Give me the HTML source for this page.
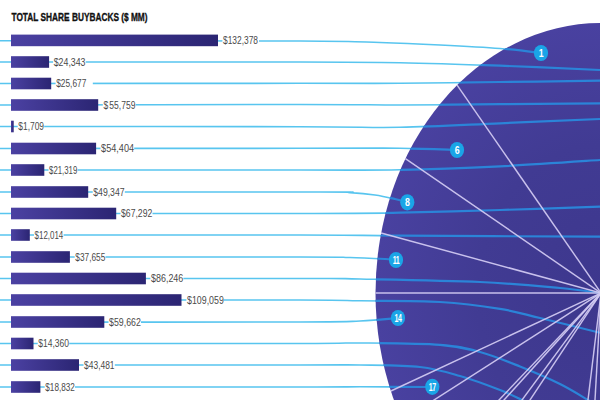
<!DOCTYPE html>
<html><head><meta charset="utf-8"><title>Total Share Buybacks</title>
<style>
html,body{margin:0;padding:0;background:#fff;}
body{width:600px;height:400px;overflow:hidden;font-family:"Liberation Sans",sans-serif;}
svg{display:block;}
text{font-family:"Liberation Sans",sans-serif;}
</style></head><body>
<svg width="600" height="400" viewBox="0 0 600 400">
<defs>
<linearGradient id="bar" x1="0" y1="0" x2="1" y2="0">
<stop offset="0" stop-color="#4b41a2"/><stop offset="1" stop-color="#2b2573"/>
</linearGradient>
<radialGradient id="pie" cx="0.5" cy="0.5" r="0.5">
<stop offset="0" stop-color="#3d378d"/><stop offset="0.55" stop-color="#413b93"/><stop offset="1" stop-color="#4941a0"/>
</radialGradient>
<clipPath id="inpie"><ellipse cx="601" cy="293.1" rx="225.5" ry="270.0"/></clipPath>
</defs>
<rect width="600" height="400" fill="#fff"/>

<g fill="none" stroke="#58c5ef" stroke-width="1.6" stroke-linecap="round">
<path d="M0.0,40.7 C50.0,40.8 236.7,40.7 300.0,41.0 C363.3,41.3 356.7,41.8 380.0,42.5 C403.3,43.2 420.0,44.0 440.0,45.0 C460.0,46.0 483.2,47.2 500.0,48.5 C516.8,49.8 534.2,52.2 541.0,53.0"/>
<path d="M0.0,62.0 C50.0,62.0 233.3,61.9 300.0,62.0 C366.7,62.1 366.7,62.1 400.0,62.7 C433.3,63.3 466.7,64.5 500.0,65.7 C533.3,66.9 583.3,69.3 600.0,70.0"/>
<path d="M0.0,83.5 C50.0,83.5 233.3,83.3 300.0,83.3 C366.7,83.3 366.7,83.5 400.0,83.3 C433.3,83.1 466.7,82.4 500.0,82.0 C533.3,81.6 583.3,80.9 600.0,80.7"/>
<path d="M0.0,105.0 C50.0,104.9 233.3,104.5 300.0,104.5 C366.7,104.5 366.7,105.0 400.0,105.0 C433.3,105.0 466.7,104.5 500.0,104.2 C533.3,103.9 583.3,103.5 600.0,103.3"/>
<path d="M0.0,126.5 C50.0,126.5 233.3,126.6 300.0,126.7 C366.7,126.8 366.7,127.9 400.0,127.3 C433.3,126.7 466.7,124.7 500.0,123.3 C533.3,121.9 583.3,119.7 600.0,119.0"/>
<path d="M0.0,148.5 C50.0,148.5 233.3,148.3 300.0,148.3 C366.7,148.3 373.8,148.0 400.0,148.3 C426.2,148.6 447.5,149.7 457.0,150.0"/>
<path d="M0.0,170.0 C50.0,170.0 233.3,170.0 300.0,170.0 C366.7,170.0 366.7,170.4 400.0,169.8 C433.3,169.2 466.7,167.9 500.0,166.3 C533.3,164.7 583.3,161.1 600.0,160.0"/>
<path d="M0.0,192.0 C53.3,192.0 261.7,191.9 320.0,192.0 C378.3,192.1 340.8,192.1 350.0,192.6 C359.2,193.1 367.5,193.9 375.0,195.0 C382.5,196.1 389.7,197.8 395.0,199.0 C400.3,200.2 405.0,201.8 407.0,202.3"/>
<path d="M0.0,213.5 C50.0,213.5 233.3,213.6 300.0,213.5 C366.7,213.4 366.7,213.3 400.0,212.7 C433.3,212.1 466.7,211.0 500.0,210.0 C533.3,209.0 583.3,207.2 600.0,206.7"/>
<path d="M0.0,235.0 C50.0,235.0 233.3,234.9 300.0,235.0 C366.7,235.1 350.0,235.4 400.0,235.7 C450.0,236.0 566.7,236.5 600.0,236.7"/>
<path d="M0.0,257.0 C50.0,257.0 241.7,256.9 300.0,257.0 C358.3,257.1 334.0,257.1 350.0,257.5 C366.0,257.9 388.3,259.2 396.0,259.5"/>
<path d="M0.0,278.5 C50.0,278.5 240.0,278.4 300.0,278.5 C360.0,278.6 330.0,278.4 360.0,279.0 C390.0,279.6 446.7,280.5 480.0,282.0 C513.3,283.5 539.8,286.2 560.0,288.0 C580.2,289.8 594.2,292.2 601.0,293.0"/>
<path d="M0.0,300.0 C50.0,300.0 240.0,299.9 300.0,300.0 C360.0,300.1 336.7,300.5 360.0,300.8 C383.3,301.1 416.7,300.7 440.0,302.0 C463.3,303.3 483.3,306.1 500.0,308.8 C516.7,311.5 523.3,314.0 540.0,318.0 C556.7,322.0 590.0,330.3 600.0,332.8"/>
<path d="M0.0,322.0 C50.0,322.0 240.0,322.2 300.0,322.0 C360.0,321.8 343.7,321.7 360.0,321.0 C376.3,320.3 391.7,318.5 398.0,318.0"/>
<path d="M0.0,343.5 C50.0,343.5 240.0,343.6 300.0,343.5 C360.0,343.4 336.7,342.8 360.0,343.0 C383.3,343.2 420.0,343.3 440.0,344.8 C460.0,346.3 466.7,348.4 480.0,352.0 C493.3,355.6 506.7,361.2 520.0,366.5 C533.3,371.8 548.7,378.4 560.0,384.0 C571.3,389.6 582.0,396.5 588.0,400.0 C594.0,403.5 594.7,404.2 596.0,405.0"/>
<path d="M0.0,365.0 C50.0,365.0 240.0,365.0 300.0,365.0 C360.0,365.0 340.0,364.7 360.0,365.0 C380.0,365.3 403.3,365.2 420.0,367.0 C436.7,368.8 446.7,372.2 460.0,376.0 C473.3,379.8 489.7,386.0 500.0,390.0 C510.3,394.0 517.0,397.7 522.0,400.0 C527.0,402.3 528.7,403.3 530.0,404.0"/>
<path d="M0.0,387.0 C50.0,387.0 240.0,387.0 300.0,387.0 C360.0,387.0 338.0,386.8 360.0,386.8 C382.0,386.8 420.0,387.0 432.0,387.0"/>
</g>
<ellipse cx="601" cy="293.1" rx="225.5" ry="270.0" fill="url(#pie)"/>
<g fill="none" stroke="#2b84d8" stroke-width="2.2" clip-path="url(#inpie)">
<path d="M0.0,40.7 C50.0,40.8 236.7,40.7 300.0,41.0 C363.3,41.3 356.7,41.8 380.0,42.5 C403.3,43.2 420.0,44.0 440.0,45.0 C460.0,46.0 483.2,47.2 500.0,48.5 C516.8,49.8 534.2,52.2 541.0,53.0"/>
<path d="M0.0,62.0 C50.0,62.0 233.3,61.9 300.0,62.0 C366.7,62.1 366.7,62.1 400.0,62.7 C433.3,63.3 466.7,64.5 500.0,65.7 C533.3,66.9 583.3,69.3 600.0,70.0"/>
<path d="M0.0,83.5 C50.0,83.5 233.3,83.3 300.0,83.3 C366.7,83.3 366.7,83.5 400.0,83.3 C433.3,83.1 466.7,82.4 500.0,82.0 C533.3,81.6 583.3,80.9 600.0,80.7"/>
<path d="M0.0,105.0 C50.0,104.9 233.3,104.5 300.0,104.5 C366.7,104.5 366.7,105.0 400.0,105.0 C433.3,105.0 466.7,104.5 500.0,104.2 C533.3,103.9 583.3,103.5 600.0,103.3"/>
<path d="M0.0,126.5 C50.0,126.5 233.3,126.6 300.0,126.7 C366.7,126.8 366.7,127.9 400.0,127.3 C433.3,126.7 466.7,124.7 500.0,123.3 C533.3,121.9 583.3,119.7 600.0,119.0"/>
<path d="M0.0,148.5 C50.0,148.5 233.3,148.3 300.0,148.3 C366.7,148.3 373.8,148.0 400.0,148.3 C426.2,148.6 447.5,149.7 457.0,150.0"/>
<path d="M0.0,170.0 C50.0,170.0 233.3,170.0 300.0,170.0 C366.7,170.0 366.7,170.4 400.0,169.8 C433.3,169.2 466.7,167.9 500.0,166.3 C533.3,164.7 583.3,161.1 600.0,160.0"/>
<path d="M0.0,192.0 C53.3,192.0 261.7,191.9 320.0,192.0 C378.3,192.1 340.8,192.1 350.0,192.6 C359.2,193.1 367.5,193.9 375.0,195.0 C382.5,196.1 389.7,197.8 395.0,199.0 C400.3,200.2 405.0,201.8 407.0,202.3"/>
<path d="M0.0,213.5 C50.0,213.5 233.3,213.6 300.0,213.5 C366.7,213.4 366.7,213.3 400.0,212.7 C433.3,212.1 466.7,211.0 500.0,210.0 C533.3,209.0 583.3,207.2 600.0,206.7"/>
<path d="M0.0,235.0 C50.0,235.0 233.3,234.9 300.0,235.0 C366.7,235.1 350.0,235.4 400.0,235.7 C450.0,236.0 566.7,236.5 600.0,236.7"/>
<path d="M0.0,257.0 C50.0,257.0 241.7,256.9 300.0,257.0 C358.3,257.1 334.0,257.1 350.0,257.5 C366.0,257.9 388.3,259.2 396.0,259.5"/>
<path d="M0.0,278.5 C50.0,278.5 240.0,278.4 300.0,278.5 C360.0,278.6 330.0,278.4 360.0,279.0 C390.0,279.6 446.7,280.5 480.0,282.0 C513.3,283.5 539.8,286.2 560.0,288.0 C580.2,289.8 594.2,292.2 601.0,293.0"/>
<path d="M0.0,300.0 C50.0,300.0 240.0,299.9 300.0,300.0 C360.0,300.1 336.7,300.5 360.0,300.8 C383.3,301.1 416.7,300.7 440.0,302.0 C463.3,303.3 483.3,306.1 500.0,308.8 C516.7,311.5 523.3,314.0 540.0,318.0 C556.7,322.0 590.0,330.3 600.0,332.8"/>
<path d="M0.0,322.0 C50.0,322.0 240.0,322.2 300.0,322.0 C360.0,321.8 343.7,321.7 360.0,321.0 C376.3,320.3 391.7,318.5 398.0,318.0"/>
<path d="M0.0,343.5 C50.0,343.5 240.0,343.6 300.0,343.5 C360.0,343.4 336.7,342.8 360.0,343.0 C383.3,343.2 420.0,343.3 440.0,344.8 C460.0,346.3 466.7,348.4 480.0,352.0 C493.3,355.6 506.7,361.2 520.0,366.5 C533.3,371.8 548.7,378.4 560.0,384.0 C571.3,389.6 582.0,396.5 588.0,400.0 C594.0,403.5 594.7,404.2 596.0,405.0"/>
<path d="M0.0,365.0 C50.0,365.0 240.0,365.0 300.0,365.0 C360.0,365.0 340.0,364.7 360.0,365.0 C380.0,365.3 403.3,365.2 420.0,367.0 C436.7,368.8 446.7,372.2 460.0,376.0 C473.3,379.8 489.7,386.0 500.0,390.0 C510.3,394.0 517.0,397.7 522.0,400.0 C527.0,402.3 528.7,403.3 530.0,404.0"/>
<path d="M0.0,387.0 C50.0,387.0 240.0,387.0 300.0,387.0 C360.0,387.0 338.0,386.8 360.0,386.8 C382.0,386.8 420.0,387.0 432.0,387.0"/>
</g>
<g stroke="#d0c8f1" stroke-width="1.45" stroke-opacity="0.95">
<line x1="601" y1="293" x2="457.1" y2="85.1"/>
<line x1="601" y1="293" x2="405.4" y2="158.6"/>
<line x1="601" y1="293" x2="381.1" y2="233.0"/>
<line x1="601" y1="293" x2="375.5" y2="293.0"/>
<line x1="601" y1="293" x2="390.9" y2="391.0"/>
<line x1="601" y1="293" x2="402.2" y2="420.4"/>
<line x1="601" y1="293" x2="431.4" y2="470.9"/>
<line x1="601" y1="293" x2="435.2" y2="475.9"/>
<line x1="601" y1="293" x2="451.6" y2="495.3"/>
<line x1="601" y1="293" x2="460.7" y2="504.4"/>
<line x1="601" y1="293" x2="568.5" y2="560.2"/>
<line x1="601" y1="293" x2="585.9" y2="562.4"/>
</g>
<ellipse cx="541" cy="53" rx="7.1" ry="8.1" fill="#1aa5e7"/>
<text transform="translate(541,57) scale(1.0,1.22)" text-anchor="middle" font-size="8.8" font-weight="bold" fill="#fff" letter-spacing="-0.5">1</text>
<ellipse cx="457" cy="150" rx="7.1" ry="8.1" fill="#1aa5e7"/>
<text transform="translate(457,154) scale(1.0,1.22)" text-anchor="middle" font-size="8.8" font-weight="bold" fill="#fff" letter-spacing="-0.5">6</text>
<ellipse cx="407.3" cy="202.3" rx="7.1" ry="8.1" fill="#1aa5e7"/>
<text transform="translate(407.3,206.3) scale(1.0,1.22)" text-anchor="middle" font-size="8.8" font-weight="bold" fill="#fff" letter-spacing="-0.5">8</text>
<ellipse cx="396" cy="260" rx="7.1" ry="8.1" fill="#1aa5e7"/>
<text transform="translate(396,264) scale(0.8,1.22)" text-anchor="middle" font-size="8.8" font-weight="bold" fill="#fff" letter-spacing="-0.5">11</text>
<ellipse cx="398" cy="318" rx="7.1" ry="8.1" fill="#1aa5e7"/>
<text transform="translate(398,322) scale(0.8,1.22)" text-anchor="middle" font-size="8.8" font-weight="bold" fill="#fff" letter-spacing="-0.5">14</text>
<ellipse cx="432.3" cy="386.8" rx="7.1" ry="8.1" fill="#1aa5e7"/>
<text transform="translate(432.3,390.8) scale(0.8,1.22)" text-anchor="middle" font-size="8.8" font-weight="bold" fill="#fff" letter-spacing="-0.5">17</text>
<rect x="11" y="34.60" width="207.0" height="11.6" fill="url(#bar)"/>
<rect x="222.4" y="34.9" width="36.6" height="11" fill="#fff"/>
<text transform="translate(223.00,43.9) scale(1,1.38)" font-size="8.5" fill="#4a4a4a" textLength="35.00" lengthAdjust="spacingAndGlyphs">$132,378</text>
<rect x="11" y="56.20" width="38.1" height="11.6" fill="url(#bar)"/>
<rect x="53.1" y="56.5" width="32.6" height="11" fill="#fff"/>
<text transform="translate(53.70,65.5) scale(1,1.38)" font-size="8.5" fill="#4a4a4a" textLength="31.80" lengthAdjust="spacingAndGlyphs">$24,343</text>
<rect x="11" y="77.70" width="40.2" height="11.6" fill="url(#bar)"/>
<rect x="55.6" y="78.0" width="37.2" height="11" fill="#fff"/>
<text transform="translate(56.20,87.0) scale(1,1.38)" font-size="8.5" fill="#4a4a4a" textLength="30.10" lengthAdjust="spacingAndGlyphs">$25,677</text>
<rect x="11" y="99.20" width="87.2" height="11.6" fill="url(#bar)"/>
<rect x="102.8" y="99.5" width="33.0" height="11" fill="#fff"/>
<text transform="translate(103.40,108.5) scale(1,1.38)" font-size="8.5" fill="#4a4a4a" textLength="32.00" lengthAdjust="spacingAndGlyphs">$<tspan dx="1.1">55,759</tspan></text>
<rect x="11" y="120.70" width="2.7" height="11.6" fill="url(#bar)"/>
<rect x="17.7" y="121.0" width="26.5" height="11" fill="#fff"/>
<text transform="translate(18.30,130.0) scale(1,1.38)" font-size="8.5" fill="#4a4a4a" textLength="25.75" lengthAdjust="spacingAndGlyphs">$1,709</text>
<rect x="11" y="142.70" width="85.1" height="11.6" fill="url(#bar)"/>
<rect x="100.5" y="143.0" width="33.7" height="11" fill="#fff"/>
<text transform="translate(101.05,152.0) scale(1,1.38)" font-size="8.5" fill="#4a4a4a" textLength="33.00" lengthAdjust="spacingAndGlyphs">$54,404</text>
<rect x="11" y="164.20" width="33.3" height="11.6" fill="url(#bar)"/>
<rect x="48.5" y="164.5" width="29.1" height="11" fill="#fff"/>
<text transform="translate(49.05,173.5) scale(1,1.38)" font-size="8.5" fill="#4a4a4a" textLength="28.25" lengthAdjust="spacingAndGlyphs">$21,319</text>
<rect x="11" y="186.20" width="77.2" height="11.6" fill="url(#bar)"/>
<rect x="92.7" y="186.5" width="32.1" height="11" fill="#fff"/>
<text transform="translate(93.30,195.5) scale(1,1.38)" font-size="8.5" fill="#4a4a4a" textLength="31.25" lengthAdjust="spacingAndGlyphs">$49,347</text>
<rect x="11" y="207.70" width="105.2" height="11.6" fill="url(#bar)"/>
<rect x="120.5" y="208.0" width="32.0" height="11" fill="#fff"/>
<text transform="translate(121.05,217.0) scale(1,1.38)" font-size="8.5" fill="#4a4a4a" textLength="31.25" lengthAdjust="spacingAndGlyphs">$67,292</text>
<rect x="11" y="229.20" width="18.8" height="11.6" fill="url(#bar)"/>
<rect x="34.0" y="229.5" width="29.6" height="11" fill="#fff"/>
<text transform="translate(34.55,238.5) scale(1,1.38)" font-size="8.5" fill="#4a4a4a" textLength="28.75" lengthAdjust="spacingAndGlyphs">$12,014</text>
<rect x="11" y="251.20" width="58.9" height="11.6" fill="url(#bar)"/>
<rect x="74.7" y="251.5" width="30.8" height="11" fill="#fff"/>
<text transform="translate(75.30,260.5) scale(1,1.38)" font-size="8.5" fill="#4a4a4a" textLength="30.00" lengthAdjust="spacingAndGlyphs">$37,655</text>
<rect x="11" y="272.70" width="134.9" height="11.6" fill="url(#bar)"/>
<rect x="150.4" y="273.0" width="33.0" height="11" fill="#fff"/>
<text transform="translate(151.05,282.0) scale(1,1.38)" font-size="8.5" fill="#4a4a4a" textLength="32.25" lengthAdjust="spacingAndGlyphs">$86,246</text>
<rect x="11" y="294.20" width="170.5" height="11.6" fill="url(#bar)"/>
<rect x="186.4" y="294.5" width="37.5" height="11" fill="#fff"/>
<text transform="translate(187.05,303.5) scale(1,1.38)" font-size="8.5" fill="#4a4a4a" textLength="36.75" lengthAdjust="spacingAndGlyphs">$109,059</text>
<rect x="11" y="316.20" width="93.3" height="11.6" fill="url(#bar)"/>
<rect x="108.5" y="316.5" width="32.5" height="11" fill="#fff"/>
<text transform="translate(109.05,325.5) scale(1,1.38)" font-size="8.5" fill="#4a4a4a" textLength="31.75" lengthAdjust="spacingAndGlyphs">$59,662</text>
<rect x="11" y="337.70" width="22.5" height="11.6" fill="url(#bar)"/>
<rect x="37.7" y="338.0" width="31.5" height="11" fill="#fff"/>
<text transform="translate(38.30,347.0) scale(1,1.38)" font-size="8.5" fill="#4a4a4a" textLength="30.75" lengthAdjust="spacingAndGlyphs">$14,360</text>
<rect x="11" y="359.20" width="68.0" height="11.6" fill="url(#bar)"/>
<rect x="83.5" y="359.5" width="31.3" height="11" fill="#fff"/>
<text transform="translate(84.05,368.5) scale(1,1.38)" font-size="8.5" fill="#4a4a4a" textLength="30.50" lengthAdjust="spacingAndGlyphs">$43,481</text>
<rect x="11" y="381.20" width="29.4" height="11.6" fill="url(#bar)"/>
<rect x="44.7" y="381.5" width="30.3" height="11" fill="#fff"/>
<text transform="translate(45.30,390.5) scale(1,1.38)" font-size="8.5" fill="#4a4a4a" textLength="29.50" lengthAdjust="spacingAndGlyphs">$18,832</text>
<text transform="translate(11.5,21) scale(1,1.42)" font-size="8.3" font-weight="bold" fill="#111" stroke="#111" stroke-width="0.25" textLength="136" lengthAdjust="spacingAndGlyphs">TOTAL SHARE BUYBACKS ($ MM)</text>
</svg></body></html>
